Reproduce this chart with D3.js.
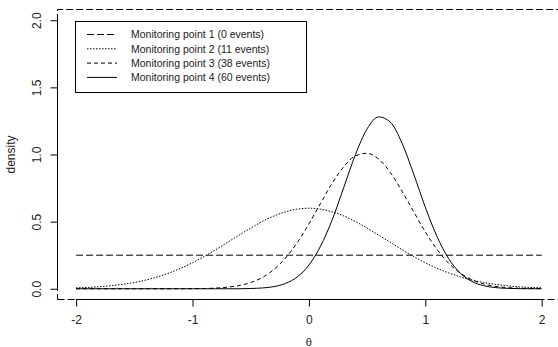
<!DOCTYPE html>
<html>
<head>
<meta charset="utf-8">
<script src="https://cdn.jsdelivr.net/npm/d3@7/dist/d3.min.js"></script>
<style>
  html, body { margin: 0; padding: 0; background: #fff; }
  svg { display: block; font-family: "Liberation Sans", Arial, sans-serif; }
</style>
</head>
<body>
<svg id="chart" width="558" height="347"></svg>
<script>
// ---- data ----
const xTicks = [-2, -1, 0, 1, 2];
const xTickLabels = ["-2", "-1", "0", "1", "2"];
const yTicks = [0, 0.5, 1, 1.5, 2];
const yTickLabels = ["0.0", "0.5", "1.0", "1.5", "2.0"];

const seriesNames = [
  "Monitoring point 1 (0 events)",
  "Monitoring point 2 (11 events)",
  "Monitoring point 3 (38 events)",
  "Monitoring point 4 (60 events)"
];

const thetaGrid = [-2.0,-1.9,-1.8,-1.7,-1.6,-1.5,-1.4,-1.3,-1.2,-1.1,-1.0,-0.9,-0.8,-0.7,-0.6,-0.5,-0.4,-0.3,-0.2,-0.1,
  0.0,0.1,0.2,0.3,0.4,0.5,0.6,0.7,0.8,0.9,1.0,1.1,1.2,1.3,1.4,1.5,1.6,1.7,1.8,1.9,2.0];

const point1Theta = [-2, 2];
const point1Density = [0.25, 0.25];

const point2Density = [0.007,0.010,0.015,0.023,0.033,0.047,0.065,0.089,0.118,0.153,0.194,0.240,0.291,0.345,0.399,0.452,0.501,0.542,0.573,0.593,
  0.600,0.593,0.573,0.542,0.501,0.452,0.399,0.345,0.291,0.240,0.194,0.153,0.118,0.089,0.065,0.047,0.033,0.023,0.015,0.010,0.007];

const point3Density = [0.000,0.000,0.000,0.000,0.000,0.000,0.000,0.000,0.000,0.000,0.001,0.002,0.005,0.012,0.024,0.046,0.084,0.144,0.230,0.344,
  0.483,0.636,0.786,0.910,0.990,1.009,0.965,0.865,0.727,0.574,0.424,0.294,0.191,0.117,0.067,0.036,0.018,0.009,0.004,0.002,0.001];

const point4Density = [0.000,0.000,0.000,0.000,0.000,0.000,0.000,0.000,0.000,0.000,0.000,0.000,0.000,0.000,0.000,0.002,0.006,0.016,0.040,0.088,
  0.176,0.317,0.513,0.756,0.999,1.191,1.280,1.241,1.085,0.855,0.608,0.390,0.225,0.117,0.055,0.023,0.009,0.003,0.001,0.000,0.000];

// ---- layout ----
const svg = d3.select("#chart");
const x = d3.scaleLinear().domain([-2.16, 2.16]).range([57.5, 560.3]);
const y = d3.scaleLinear().domain([-0.08, 2.08]).range([299.5, 9.5]);

const dashes = ["7,3", "1.5,1.5", "4,3", null];

const series = [
  point1Theta.map((t, i) => [t, point1Density[i]]),
  thetaGrid.map((t, i) => [t, point2Density[i]]),
  thetaGrid.map((t, i) => [t, point3Density[i]]),
  thetaGrid.map((t, i) => [t, point4Density[i]])
];

// dashed plot box
const x0 = x.range()[0], x1 = x.range()[1], yb = y.range()[0], yt = y.range()[1];
svg.append("path")
  .attr("d", `M${x0},${yb}L${x1},${yb}L${x1},${yt}L${x0},${yt}Z`)
  .attr("fill", "none").attr("stroke", "#000").attr("stroke-width", 1)
  .attr("stroke-dasharray", "7,3");

// curves
const line = d3.line().x(d => x(d[0])).y(d => y(d[1])).curve(d3.curveMonotoneX);
series.forEach((s, i) => {
  svg.append("path")
    .attr("d", line(s))
    .attr("fill", "none")
    .attr("stroke", "#000")
    .attr("stroke-width", 1)
    .attr("stroke-dasharray", dashes[i]);
});

// x axis
const xAxis = d3.axisBottom(x).tickValues(xTicks)
  .tickFormat((d, i) => xTickLabels[i]).tickSize(7).tickPadding(9);
const gx = svg.append("g").attr("transform", `translate(0,${yb})`).call(xAxis);
gx.select(".domain").remove();
gx.append("line").attr("x1", x(xTicks[0])).attr("x2", x(xTicks[xTicks.length - 1]))
  .attr("y1", 0).attr("y2", 0).attr("stroke", "#000");
gx.selectAll("text").attr("font-size", 12).attr("fill", "#222")
  .attr("font-family", "Liberation Sans, Arial, sans-serif");

// y axis
const yAxis = d3.axisLeft(y).tickValues(yTicks)
  .tickFormat((d, i) => yTickLabels[i]).tickSize(7);
const gy = svg.append("g").attr("transform", `translate(${x0},0)`).call(yAxis);
gy.select(".domain").remove();
gy.append("line").attr("x1", 0).attr("x2", 0)
  .attr("y1", y(yTicks[0])).attr("y2", y(yTicks[yTicks.length - 1])).attr("stroke", "#000");
gy.selectAll(".tick text")
  .attr("transform", "rotate(-90)")
  .attr("x", 0).attr("y", -16.5).attr("dy", 0)
  .attr("text-anchor", "middle")
  .attr("font-size", 12).attr("fill", "#222")
  .attr("font-family", "Liberation Sans, Arial, sans-serif");

// axis titles
svg.append("text")
  .attr("x", (x0 + x1) / 2).attr("y", 346)
  .attr("text-anchor", "middle").attr("font-size", 11).attr("fill", "#222")
  .text("θ");
svg.append("text")
  .attr("transform", `translate(15,${(yb + yt) / 2}) rotate(-90)`)
  .attr("text-anchor", "middle").attr("font-size", 12).attr("fill", "#222")
  .text("density");

// legend
const lg = svg.append("g");
lg.append("rect").attr("x", 75.5).attr("y", 21.5).attr("width", 231).attr("height", 71)
  .attr("fill", "#fff").attr("stroke", "#000").attr("stroke-width", 1);
seriesNames.forEach((name, i) => {
  const cy = 34.5 + i * 14.3;
  lg.append("line").attr("x1", 87).attr("x2", 117).attr("y1", cy).attr("y2", cy)
    .attr("stroke", "#000").attr("stroke-width", 1).attr("stroke-dasharray", dashes[i]);
  lg.append("text").attr("x", 131).attr("y", cy + 3.8)
    .attr("font-size", 10.5).attr("fill", "#222").text(name);
});
</script>
</body>
</html>
